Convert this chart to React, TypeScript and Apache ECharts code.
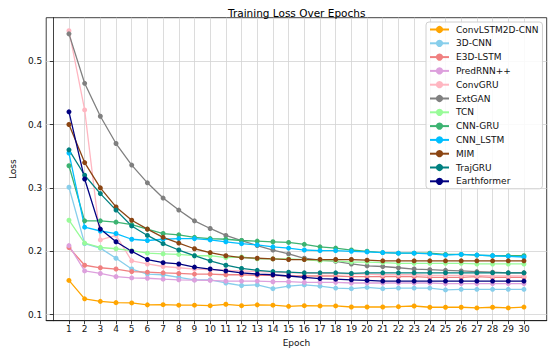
import React, { useEffect, useRef } from "react";
import * as echarts from "echarts";

const epochs = Array.from({ length: 30 }, (_, i) => i + 1);
const yTicks = [0.1, 0.2, 0.3, 0.4, 0.5];

const modelNames = [
  "ConvLSTM2D-CNN", "3D-CNN", "E3D-LSTM", "PredRNN++", "ConvGRU", "ExtGAN",
  "TCN", "CNN-GRU", "CNN_LSTM", "MIM", "TrajGRU", "Earthformer",
];

const convLSTM2DCNN = [0.154, 0.125, 0.121, 0.119, 0.1185, 0.1155, 0.1158, 0.115, 0.115, 0.1142, 0.1164, 0.1142, 0.1155, 0.115, 0.1132, 0.1142, 0.1138, 0.1138, 0.1121, 0.1121, 0.1121, 0.1126, 0.1137, 0.1117, 0.1117, 0.1117, 0.1106, 0.1117, 0.1106, 0.112];
const cnn3D = [0.301, 0.212, 0.205, 0.189, 0.172, 0.164, 0.163, 0.159, 0.155, 0.155, 0.150, 0.146, 0.147, 0.141, 0.145, 0.147, 0.145, 0.142, 0.141, 0.143, 0.141, 0.142, 0.142, 0.142, 0.139, 0.140, 0.140, 0.140, 0.140, 0.140];
const e3dLSTM = [0.206, 0.178, 0.174, 0.172, 0.168, 0.167, 0.166, 0.165, 0.164, 0.164, 0.163, 0.163, 0.162, 0.162, 0.161, 0.161, 0.161, 0.161, 0.160, 0.160, 0.160, 0.160, 0.160, 0.159, 0.159, 0.159, 0.160, 0.159, 0.159, 0.159];
const predRNNpp = [0.209, 0.169, 0.165, 0.160, 0.158, 0.1575, 0.156, 0.155, 0.1545, 0.154, 0.153, 0.153, 0.153, 0.152, 0.152, 0.151, 0.151, 0.151, 0.150, 0.150, 0.150, 0.150, 0.150, 0.150, 0.149, 0.149, 0.149, 0.149, 0.149, 0.149];
const convGRU = [0.548, 0.423, 0.218, 0.225, 0.185, 0.180, 0.176, 0.174, 0.172, 0.171, 0.170, 0.169, 0.168, 0.167, 0.166, 0.166, 0.165, 0.165, 0.164, 0.164, 0.163, 0.163, 0.163, 0.162, 0.162, 0.162, 0.162, 0.161, 0.161, 0.161];
const extGAN = [0.543, 0.465, 0.413, 0.370, 0.336, 0.308, 0.284, 0.265, 0.248, 0.236, 0.225, 0.217, 0.209, 0.202, 0.196, 0.189, 0.186, 0.184, 0.180, 0.177, 0.176, 0.174, 0.172, 0.171, 0.170, 0.169, 0.168, 0.167, 0.166, 0.166];
const tcn = [0.249, 0.213, 0.206, 0.204, 0.201, 0.197, 0.196, 0.195, 0.193, 0.193, 0.190, 0.191, 0.188, 0.188, 0.188, 0.187, 0.185, 0.185, 0.183, 0.183, 0.182, 0.181, 0.181, 0.181, 0.181, 0.181, 0.180, 0.180, 0.180, 0.180];
const cnnGRU = [0.335, 0.248, 0.248, 0.246, 0.242, 0.235, 0.228, 0.226, 0.222, 0.220, 0.219, 0.217, 0.216, 0.215, 0.214, 0.211, 0.207, 0.205, 0.202, 0.200, 0.198, 0.197, 0.197, 0.197, 0.195, 0.195, 0.194, 0.193, 0.193, 0.193];
const cnnLSTM = [0.355, 0.238, 0.232, 0.228, 0.219, 0.217, 0.219, 0.220, 0.220, 0.218, 0.215, 0.212, 0.210, 0.207, 0.205, 0.202, 0.201, 0.201, 0.200, 0.199, 0.198, 0.197, 0.197, 0.196, 0.194, 0.195, 0.194, 0.193, 0.192, 0.191];
const mim = [0.400, 0.340, 0.300, 0.270, 0.249, 0.235, 0.222, 0.213, 0.204, 0.198, 0.193, 0.190, 0.189, 0.188, 0.187, 0.187, 0.187, 0.187, 0.187, 0.186, 0.185, 0.185, 0.185, 0.185, 0.185, 0.185, 0.185, 0.185, 0.185, 0.185];
const trajGRU = [0.360, 0.320, 0.291, 0.265, 0.240, 0.225, 0.212, 0.202, 0.193, 0.185, 0.178, 0.173, 0.170, 0.168, 0.167, 0.166, 0.166, 0.166, 0.165, 0.166, 0.166, 0.166, 0.166, 0.166, 0.166, 0.166, 0.166, 0.166, 0.166, 0.166];
const earthformer = [0.420, 0.314, 0.235, 0.215, 0.200, 0.187, 0.182, 0.180, 0.175, 0.172, 0.169, 0.166, 0.164, 0.163, 0.161, 0.159, 0.157, 0.156, 0.155, 0.154, 0.153, 0.153, 0.153, 0.153, 0.153, 0.153, 0.153, 0.153, 0.153, 0.153];

const seriesValues = [convLSTM2DCNN, cnn3D, e3dLSTM, predRNNpp, convGRU, extGAN, tcn, cnnGRU, cnnLSTM, mim, trajGRU, earthformer];
const colors = ["#FFA500", "#87CEEB", "#F08080", "#DDA0DD", "#FFB6C1", "#808080", "#98FB98", "#3CB371", "#00BFFF", "#8B4513", "#008080", "#000080"];

const FONT = "DejaVu Sans";

export default function App() {
  const ref = useRef<HTMLDivElement>(null);
  useEffect(() => {
    if (!ref.current) return;
    const chart = echarts.init(ref.current, null, { renderer: "svg" });
    chart.setOption({
      animation: false,
      backgroundColor: "#ffffff",
      title: {
        text: "Training Loss Over Epochs",
        left: 291.7,
        textAlign: "center",
        top: 2,
        textStyle: { fontFamily: FONT, fontSize: 10.5, fontWeight: "normal", color: "#000" },
      },
      legend: {
        orient: "vertical",
        left: 426,
        top: 22,
        width: 116,
        padding: [3, 4, 3, 3],
        itemWidth: 19,
        itemHeight: 9,
        itemGap: 4.8,
        backgroundColor: "rgba(255,255,255,0.85)",
        borderColor: "#d0d0d0",
        borderWidth: 1,
        borderRadius: 3,
        textStyle: { fontFamily: FONT, fontSize: 9, color: "#111", padding: [0, 0, 0, 2] },
        data: modelNames,
      },
      grid: {
        left: 36.7,
        right: 3.3,
        top: 17.7,
        bottom: 32.3,
        show: true,
        borderColor: "#111",
        borderWidth: 0.8,
        backgroundColor: "transparent",
      },
      xAxis: {
        type: "value",
        min: -0.45,
        max: 31.45,
        name: "Epoch",
        nameLocation: "middle",
        nameGap: 18,
        nameTextStyle: { fontFamily: FONT, fontSize: 9, color: "#111" },
        axisLine: { show: true, lineStyle: { color: "#111", width: 0.8 } },
        axisTick: { show: true, customValues: epochs, length: 3.5, lineStyle: { color: "#111", width: 0.8 } },
        axisLabel: { customValues: epochs, fontFamily: FONT, fontSize: 9, color: "#111", margin: 4, formatter: (v: number) => String(v) },
        splitLine: { show: true, lineStyle: { color: "#d3d3d3", width: 0.8 } },
      },
      yAxis: {
        type: "value",
        min: 0.0905,
        max: 0.5685,
        name: "Loss",
        nameLocation: "middle",
        nameGap: 27,
        nameRotate: 90,
        nameTextStyle: { fontFamily: FONT, fontSize: 9, color: "#111" },
        axisLine: { show: true, lineStyle: { color: "#111", width: 0.8 } },
        axisTick: { show: true, customValues: yTicks, length: 3.5, lineStyle: { color: "#111", width: 0.8 } },
        axisLabel: { customValues: yTicks, fontFamily: FONT, fontSize: 9, color: "#111", margin: 4, formatter: (v: number) => v.toFixed(1) },
        splitLine: { show: true, lineStyle: { color: "#d3d3d3", width: 0.8 } },
      },
      series: modelNames.map((name, i) => ({
        name,
        type: "line",
        data: epochs.map((e, j) => [e, seriesValues[i][j]]),
        symbol: "circle",
        symbolSize: 5,
        showSymbol: true,
        color: colors[i],
        lineStyle: { width: 1.3, color: colors[i] },
        itemStyle: { color: colors[i] },
      })),
    });
    return () => chart.dispose();
  }, []);
  return <div ref={ref} style={{ position: "absolute", left: 0, top: 0, width: 550, height: 353 }} />;
}
